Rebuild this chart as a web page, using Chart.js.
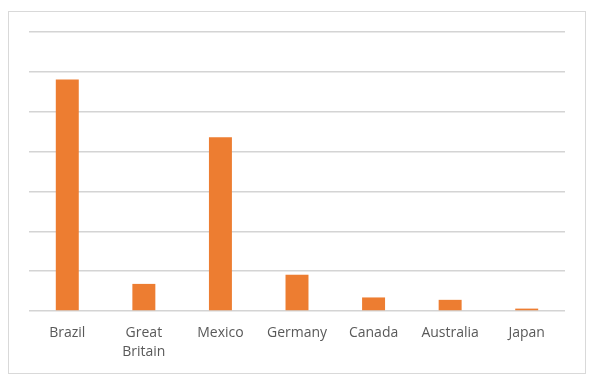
<!DOCTYPE html>
<html>
<head>
<meta charset="utf-8">
<script src="https://cdn.jsdelivr.net/npm/chart.js@4"></script>
<style>
  html, body { margin: 0; padding: 0; background: #fff; }
  #frame {
    position: absolute; left: 8px; top: 11px;
    width: 576px; height: 361px;
    border: 1px solid #d9d9d9;
  }
  #grafico { display: block; }
</style>
</head>
<body>
<div id="frame"><canvas id="grafico" width="576" height="361"></canvas></div>
<script>
// Datos del gráfico
const paises = ['Brazil', ['Great', 'Britain'], 'Mexico', 'Germany', 'Canada', 'Australia', 'Japan'];
const valores = [5.81, 0.68, 4.36, 0.91, 0.34, 0.28, 0.06];
const yMax = 7;

const ctx = document.getElementById('grafico').getContext('2d');
const grafico = new Chart(ctx, {
  type: 'bar',
  data: {
    labels: paises,
    datasets: [{
      data: valores,
      backgroundColor: '#ed7d31',
      borderWidth: 0,
      categoryPercentage: 1,
      barPercentage: 0.3,
    }],
  },
  options: {
    responsive: false,
    animation: false,
    layout: { padding: { left: 20, right: 20, top: 20, bottom: 0 } },
    plugins: {
      legend: { display: false },
      tooltip: { enabled: false },
    },
    scales: {
      x: {
        grid: { display: false, drawTicks: false },
        border: { display: false },
        ticks: {
          color: '#595959',
          font: { family: 'Open Sans', size: 14, lineHeight: 1.35 },
          padding: 13,
          maxRotation: 0,
          autoSkip: false,
        },
        afterFit: (scale) => { scale.height = 62; },
      },
      y: {
        min: 0,
        max: yMax,
        ticks: { display: false, stepSize: 1 },
        grid: { color: '#d4d4d4', lineWidth: 1.5, drawTicks: false },
        border: { display: false },
        afterFit: (scale) => { scale.width = 0; },
      },
    },
  },
});
</script>
</body>
</html>
